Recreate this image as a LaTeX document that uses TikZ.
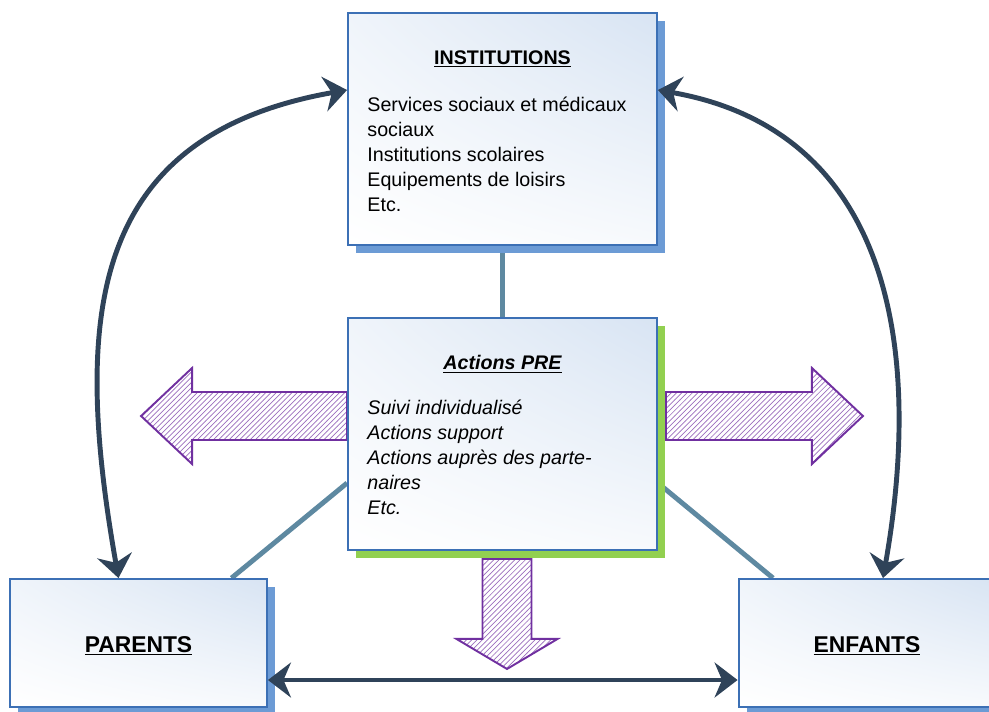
\documentclass[tikz,border=0pt]{standalone}
\usepackage{fontspec}
\setmainfont{Liberation Sans}
\usetikzlibrary{positioning, arrows.meta, shadows, shadings, patterns, backgrounds}

\definecolor{boxline}{HTML}{3C70B5}
\definecolor{boxtint}{HTML}{D8E4F3}
\definecolor{shadowblue}{HTML}{6C9BD5}
\definecolor{shadowgreen}{HTML}{92D050}
\definecolor{darkarrow}{HTML}{2F4359}
\definecolor{steel}{HTML}{5E89A1}
\definecolor{hatchpurple}{HTML}{7030A0}

\begin{document}
\begin{tikzpicture}[x=0.02cm, y=-0.02cm]
	\tikzset{
		box/.style={draw=boxline, line width=1.1pt, inner sep=0pt, shade,
			upper right=boxtint, upper left=boxtint!40, lower left=white, lower right=boxtint!20},
		blueshadow/.style={drop shadow={shadow xshift=0.16cm, shadow yshift=-0.16cm, fill=shadowblue, opacity=1}},
		greenshadow/.style={drop shadow={shadow xshift=0.16cm, shadow yshift=-0.16cm, fill=shadowgreen, opacity=1}},
		bigbox/.style={box, minimum width=6.18cm, minimum height=4.64cm},
		smallbox/.style={box, blueshadow, minimum width=5.14cm, minimum height=2.56cm},
		title/.style={inner sep=0pt, font=\fontsize{11.2}{14.2}\selectfont\bfseries},
		body/.style={inner sep=0pt, align=left, font=\fontsize{11.2}{14.2}\selectfont},
		link/.style={draw=steel, line width=2.8pt},
		bidir/.style={draw=darkarrow, line width=2.8pt,
			{Stealth[length=0.46cm, width=0.7cm]}-{Stealth[length=0.46cm, width=0.7cm]}},
		hatched/.style={draw=hatchpurple, line width=1.1pt, line join=miter,
			pattern=north east lines, pattern color=hatchpurple!70}
	}
	\useasboundingbox (0,0) rectangle (989,711);
	
	% les boites
	\node[bigbox, blueshadow] (inst) at (502.5,129) {};
	\node[bigbox, greenshadow] (pre) at (502.5,434) {};
	\node[smallbox] (parents) at (138.5,643) {};
	\node[smallbox] (enfants) at (867,643) {};
	
	% textes
	\node[title] (insttitle) at ([shift={(0,47)}]inst.north) {\underline{INSTITUTIONS}};
	\node[body, anchor=north west] (instbody) at ([shift={(20,85)}]inst.north west)
		{Services sociaux et médicaux\\sociaux\\Institutions scolaires\\Equipements de loisirs\\Etc.};
	\node[title] (pretitle) at ([shift={(0,47)}]pre.north) {\itshape\underline{Actions PRE}};
	\node[body, anchor=north west, font=\fontsize{11.2}{14.2}\selectfont\itshape] (prebody) at ([shift={(20,83)}]pre.north west)
		{Suivi individualisé\\Actions support\\Actions auprès des parte-\\naires\\Etc.};
	\node[title, font=\fontsize{13}{16}\selectfont\bfseries] (parentstitle) at ([shift={(0,3)}]parents.center) {\underline{PARENTS}};
	\node[title, font=\fontsize{13}{16}\selectfont\bfseries] (enfantstitle) at ([shift={(0,3)}]enfants.center) {\underline{ENFANTS}};
	
	% liens et fleches hachurees derriere les boites
	\begin{scope}[on background layer]
		\draw[link] (inst.south) -- (pre.north);
		\draw[link] ([shift={(0,49)}]pre.west) -- ([shift={(93,0)}]parents.north);
		\draw[link] ([shift={(0,49)}]pre.east) -- ([shift={(-94,0)}]enfants.north);
		
		\draw[hatched] ([shift={(0,-42)}]pre.west) -- ++(-155,0) -- ++(0,-24) -- ++(-51,48)
			-- ++(51,48) -- ++(0,-24) -- ([shift={(0,6)}]pre.west) -- cycle;
		\draw[hatched] ([shift={(8,-42)}]pre.east) -- ++(146,0) -- ++(0,-24) -- ++(51,48)
			-- ++(-51,48) -- ++(0,-24) -- ([shift={(8,6)}]pre.east) -- cycle;
		\draw[hatched] ([shift={(-20,8)}]pre.south) -- ++(0,80) -- ++(-26,0) -- ++(50.5,30)
			-- ++(50.5,-30) -- ++(-26,0) -- ++(0,-80) -- cycle;
	\end{scope}
	
	% fleches doubles
	\draw[bidir] ([shift={(0,-39)}]inst.west) to[out=190, in=100, looseness=1.25] ([shift={(-20,0)}]parents.north);
	\draw[bidir] ([shift={(0,-39)}]inst.east) to[out=-10, in=80, looseness=1.12] ([shift={(16,0)}]enfants.north);
	\draw[bidir] ([shift={(0,37)}]parents.east) -- ([shift={(0,37)}]enfants.west);
\end{tikzpicture}
\end{document}
